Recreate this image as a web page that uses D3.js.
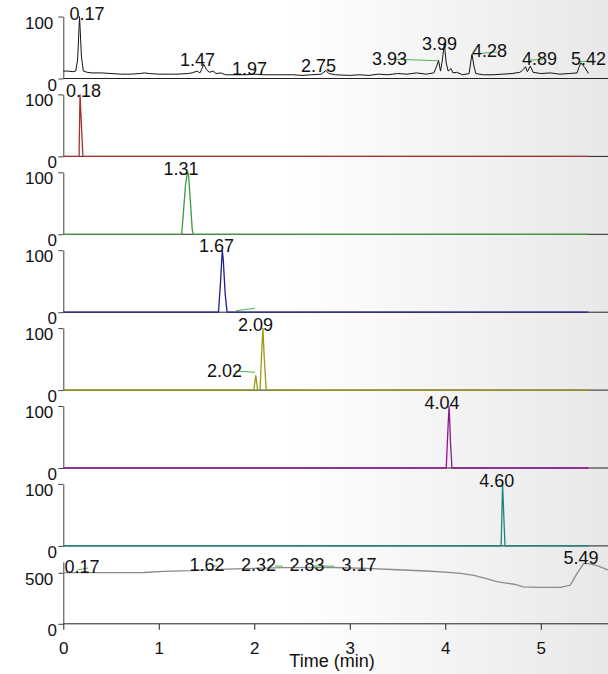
<!DOCTYPE html>
<html>
<head>
<meta charset="utf-8">
<script src="https://cdn.jsdelivr.net/npm/d3@7"></script>
<style>
  body { margin: 0; background: #fff; }
  svg { display: block; font-family: Arial, 'Liberation Sans', sans-serif; }
</style>
</head>
<body>
<div class="container"></div>
<script>
var timeTicks = [0, 1, 2, 3, 4, 5];
var timeMax = 5.704;
var axisTitle = 'Time (min)';

/* traces: [time (min), relative intensity] */
var tic = [[0,12],[0.05,12],[0.10,11],[0.13,12],[0.15,30],[0.17,100],[0.19,35],[0.21,12],[0.25,10],
  [0.30,9],[0.40,9],[0.50,8],[0.60,7],[0.70,7],[0.80,8],[0.85,9],[0.90,8],[1.00,7],[1.10,7],[1.20,7],
  [1.30,8],[1.35,9],[1.40,12],[1.43,9],[1.45,15],[1.47,23],[1.50,14],[1.53,10],[1.57,12],[1.60,8],
  [1.65,9],[1.70,6],[1.80,6],[1.90,6],[2.00,7],[2.10,6],[2.20,6],[2.40,6],[2.50,5],[2.60,6],[2.70,7],
  [2.75,13],[2.78,8],[2.85,6],[3.00,5],[3.10,6],[3.20,5],[3.30,7],[3.40,6],[3.50,8],[3.60,7],[3.70,9],
  [3.80,7],[3.88,9],[3.91,20],[3.93,29],[3.95,12],[3.97,30],[3.99,57],[4.01,25],[4.03,12],[4.06,16],
  [4.08,9],[4.12,10],[4.18,6],[4.25,8],[4.27,30],[4.28,39],[4.30,20],[4.32,8],[4.40,6],[4.50,6],
  [4.60,7],[4.70,8],[4.78,10],[4.80,12],[4.82,15],[4.84,19],[4.86,11],[4.89,20],[4.92,10],[5.00,8],
  [5.10,9],[5.20,7],[5.30,8],[5.38,9],[5.40,18],[5.42,25],[5.46,18],[5.50,8]];
var trace018 = [[0,0],[0.165,0],[0.175,100],[0.205,0],[5.5,0]];
var trace131 = [[0,0],[1.24,0],[1.26,40],[1.28,80],[1.30,100],[1.31,98],[1.33,55],[1.35,8],[1.36,0],[5.5,0]];
var trace167 = [[0,0],[1.625,0],[1.645,45],[1.665,100],[1.675,85],[1.695,30],[1.715,0],[5.5,0]];
var trace209 = [[0,0],[1.995,0],[2.015,24],[2.035,0],[2.06,0],[2.08,70],[2.09,100],[2.105,50],[2.125,0],[5.5,0]];
var trace404 = [[0,0],[4.01,0],[4.03,70],[4.04,100],[4.055,40],[4.07,0],[5.5,0]];
var trace460 = [[0,0],[4.585,0],[4.60,100],[4.625,0],[5.5,0]];
var uvTrace = [[0,501],[0.4,501],[0.84,503],[1.05,515],[1.33,521],[1.62,534],[2.0,543],[2.3,550],
  [2.83,552],[3.17,544],[3.5,530],[3.8,518],[4.0,507],[4.16,495],[4.3,475],[4.42,446],[4.54,413],
  [4.62,402],[4.72,388],[4.82,362],[5.0,358],[5.21,358],[5.31,380],[5.38,495],[5.45,593],[5.5,590],
  [5.59,570],[5.704,528]];

/* peak labels: [text, time, intensity] */
var ticLabels = [['0.17',0.248,94.4],['1.47',1.405,20.2],['1.97',1.95,5.6],['2.75',2.672,11],
  ['3.93',3.416,21.8],['3.99',3.939,46],['4.28',4.463,34.2],['4.89',4.986,21.8],['5.42',5.5,21.8]];
var labels018 = [['0.18',0.212,95.8]];
var labels131 = [['1.31',1.232,95.6]];
var labels167 = [['1.67',1.604,97.6]];
var labels209 = [['2.09',2.014,95.8],['2.02',1.688,21.1]];
var labels404 = [['4.04',3.965,94.7]];
var labels460 = [['4.60',4.538,95.5]];
var uvLabels = [['0.17',0.196,495],['1.62',1.505,518],['2.32',2.044,518],['2.83',2.552,518],
  ['3.17',3.096,521],['5.49',5.421,583]];

/* leader lines: [time1, value1, time2, value2] */
var ticLeaders = [[3.473,31,3.923,28.7],[4.28,39.5,4.54,42.7],[4.887,29.8,5.023,30.3],
  [5.41,27,5.567,28],[1.983,12.9,2.025,13.7]];
var leaders167 = [[1.808,2.4,2.007,6.3]];
var leaders209 = [[1.798,30.8,2.007,28.7]];
var uvLeaders = [[0.143,527,0.259,547],[1.56,565,1.61,567],[2.218,567,2.3,565],[2.626,567,2.835,565]];

var yMax = [100, 100, 100, 100, 100, 100, 100, 608];
var yTicks = [[0,100],[0,100],[0,100],[0,100],[0,100],[0,100],[0,100],[0,500]];

var traceColors = ['#111111', '#a8302c', '#3c9a3c', '#1f1f8f', '#9a9a14', '#8e168e', '#178585', '#8a8a8a'];

var panels = [
  {trace: tic, labels: ticLabels, leaders: ticLeaders},
  {trace: trace018, labels: labels018, leaders: []},
  {trace: trace131, labels: labels131, leaders: []},
  {trace: trace167, labels: labels167, leaders: leaders167},
  {trace: trace209, labels: labels209, leaders: leaders209},
  {trace: trace404, labels: labels404, leaders: []},
  {trace: trace460, labels: labels460, leaders: []},
  {trace: uvTrace, labels: uvLabels, leaders: uvLeaders}
];

buildChart();

function buildChart() {

  var w = 608;
  var h = 674;
  var panelTop = 16.5;
  var panelStep = 77.9;
  var panelH = 62;

  var svg = d3.select('.container')
    .append('svg')
    .attr('width', w)
    .attr('height', h);

  /* grey fade on the right */
  var grad = svg.append('defs')
    .append('linearGradient')
    .attr('id', 'bg')
    .attr('x1', '0%').attr('x2', '100%')
    .attr('y1', '0%').attr('y2', '0%');
  grad.append('stop').attr('offset', '0%').attr('stop-color', '#ffffff');
  grad.append('stop').attr('offset', '48%').attr('stop-color', '#ffffff');
  grad.append('stop').attr('offset', '82%').attr('stop-color', '#f0f0f0');
  grad.append('stop').attr('offset', '100%').attr('stop-color', '#e8e8e8');

  svg.append('rect')
    .attr('width', w)
    .attr('height', h)
    .attr('fill', 'url(#bg)');

  var xScale = d3.scaleLinear()
    .domain([0, timeMax])
    .range([63.3, 608]);

  panels.forEach(function(p, i) {
    var top = panelTop + i * panelStep;
    var yScale = d3.scaleLinear()
      .domain([0, yMax[i]])
      .range([top + panelH, top]);

    var g = svg.append('g');

    /* baseline */
    g.append('line')
      .attr('x1', xScale(0))
      .attr('x2', xScale(timeMax))
      .attr('y1', yScale(0))
      .attr('y2', yScale(0))
      .attr('stroke', '#222');

    /* y axis */
    var yAxis = d3.axisLeft(yScale)
      .tickValues(yTicks[i])
      .tickSize(5)
      .tickSizeOuter(0);

    var ya = g.append('g')
      .attr('transform', 'translate(' + xScale(0) + ',0)')
      .style('color', '#444')
      .call(yAxis);
    ya.selectAll('text')
      .attr('fill', '#111')
      .style('font-size', '17px')
      .style('font-family', 'Arial, "Liberation Sans", sans-serif')
      .attr('dy', '0.68em')
      .attr('x', function(d) { return d === 0 ? -6.3 : -10; });

    /* trace */
    var line = d3.line()
      .x(function(d) { return xScale(d[0]); })
      .y(function(d) { return yScale(d[1]); });

    g.append('path')
      .datum(p.trace)
      .attr('d', line)
      .attr('fill', 'none')
      .attr('stroke', traceColors[i])
      .attr('stroke-width', i === 0 ? 1 : 1.3);

    /* green leader lines */
    g.selectAll('.leader')
      .data(p.leaders)
      .enter()
      .append('line')
      .attr('x1', function(d) { return xScale(d[0]); })
      .attr('y1', function(d) { return yScale(d[1]); })
      .attr('x2', function(d) { return xScale(d[2]); })
      .attr('y2', function(d) { return yScale(d[3]); })
      .attr('stroke', '#4cb24c')
      .attr('stroke-width', 1);

    /* peak labels */
    g.selectAll('.lbl')
      .data(p.labels)
      .enter()
      .append('text')
      .attr('x', function(d) { return xScale(d[1]); })
      .attr('y', function(d) { return yScale(d[2]); })
      .attr('text-anchor', 'middle')
      .attr('font-size', '18px')
      .attr('fill', '#111')
      .text(function(d) { return d[0]; });

    /* time axis under the last panel */
    if (i === panels.length - 1) {
      var xAxis = d3.axisBottom(xScale)
        .tickValues(timeTicks)
        .tickSize(6)
        .tickPadding(12)
        .tickSizeOuter(0)
        .tickFormat(d3.format('d'));

      var xa = g.append('g')
        .attr('transform', 'translate(0,' + yScale(0) + ')')
        .style('color', '#222')
        .call(xAxis);
      xa.select('.domain').remove();
      xa.selectAll('text')
        .attr('fill', '#111')
        .style('font-size', '17px')
        .style('font-family', 'Arial, "Liberation Sans", sans-serif');

      g.append('text')
        .attr('x', 332)
        .attr('y', yScale(0) + 43)
        .attr('text-anchor', 'middle')
        .attr('font-size', '18px')
        .attr('fill', '#111')
        .text(axisTitle);
    }
  });
}
</script>
</body>
</html>
